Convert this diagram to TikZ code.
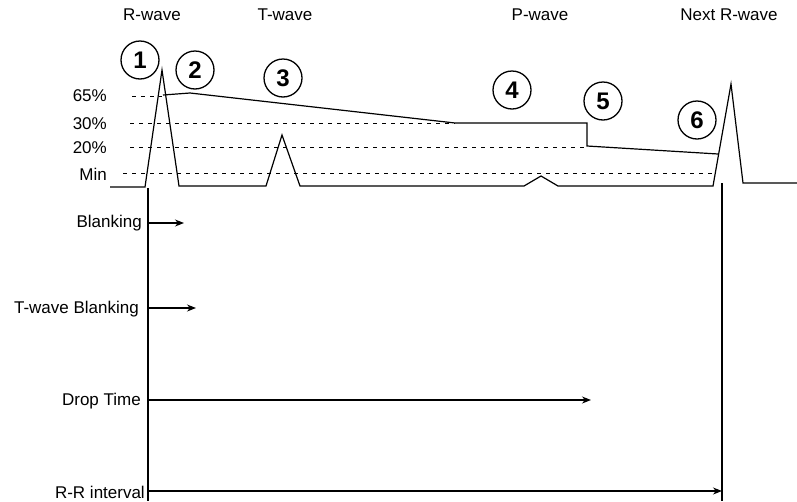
\documentclass[tikz,border=0pt]{standalone}
\usepackage{fontspec}
\setmainfont{Liberation Sans}
\usetikzlibrary{arrows.meta}
\begin{document}
\begin{tikzpicture}[x=1pt,y=-1pt,
  lbl/.style={font=\fontsize{17}{20}\selectfont, inner sep=0pt},
  num/.style={circle, draw, line width=1.3pt, minimum size=38pt, inner sep=0pt,
              font=\fontsize{24}{28}\selectfont\bfseries},
  wave/.style={line width=1.2pt, line join=miter},
  dashline/.style={line width=1pt, dash pattern=on 4pt off 5pt},
  vline/.style={line width=1.2pt},
  timearrow/.style={line width=1.2pt, -{Stealth[length=9pt,width=7pt]}}]
\useasboundingbox (0,0) rectangle (797,501);

% top labels
\node[lbl] (rw) at (152,15) {R-wave};
\node[lbl] (tw) at (285,15) {T-wave};
\node[lbl] (pw) at (540,15) {P-wave};
\node[lbl] (nrw) at (729,15) {Next R-wave};

% level labels
\node[lbl, anchor=east] (l65) at (107,96) {65\%};
\node[lbl, anchor=east] (l30) at (107,124) {30\%};
\node[lbl, anchor=east] (l20) at (107,148) {20\%};
\node[lbl, anchor=east] (lmin) at (107,174) {Min};

% dashed level lines
\draw[dashline] (132,96) -- (162,96);
\draw[dashline] (130,123) -- (455,123);
\draw[dashline] (130,147) -- (587,147);
\draw[dashline] (123,173) -- (712,173);

% threshold line
\draw[wave] (163,95) -- (190,93) -- (455,123) -- (587,123) -- (587,146) -- (718,154);

% ECG waveform
\draw[wave] (110,187) -- (145,187) -- (162,70) -- (179,186) -- (266,186)
  -- (282,135) -- (300,186) -- (524,186) -- (541,176) -- (558,186)
  -- (713,186) -- (731,84) -- (743,183) -- (797,183);

% numbered circles
\node[num] (n1) at (140,60) {1};
\node[num] (n2) at (195,70) {2};
\node[num] (n3) at (283,78) {3};
\node[num] (n4) at (512,90) {4};
\node[num] (n5) at (603,101) {5};
\node[num] (n6) at (697,120) {6};

% vertical marker lines
\coordinate (vtop) at (148,188);
\coordinate (vbot) at (148,501);
\coordinate (wtop) at (722,183);
\coordinate (wbot) at (722,501);
\draw[vline] (vtop) -- (vbot);
\draw[vline] (wtop) -- (wbot);

% timing rows
\node[lbl, anchor=east] (blank) at (142,223) {Blanking};
\node[lbl, anchor=east] (tblank) at (139,309) {T-wave Blanking};
\node[lbl, anchor=east] (drop) at (141,401) {Drop Time};
\node[lbl, anchor=east] (rr) at (145,492) {R-R interval};

\coordinate (b0) at (148,223); \coordinate (b1) at (184,223);
\coordinate (t0) at (148,308); \coordinate (t1) at (196,308);
\coordinate (d0) at (148,400); \coordinate (d1) at (591,400);
\coordinate (r0) at (148,491); \coordinate (r1) at (722,491);
\draw[timearrow] (b0) -- (b1);
\draw[timearrow] (t0) -- (t1);
\draw[timearrow] (d0) -- (d1);
\draw[timearrow] (r0) -- (r1);
\end{tikzpicture}
\end{document}
